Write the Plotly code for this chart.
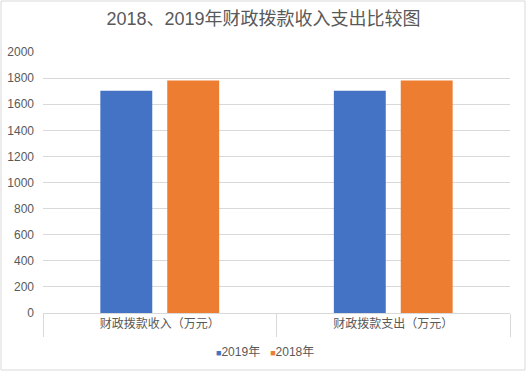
import plotly.graph_objects as go

categories = ["财政拨款收入（万元）", "财政拨款支出（万元）"]
series_names = ["2019年", "2018年"]
values_2019 = [1703, 1703]
values_2018 = [1782, 1782]
colors = ["#4472C4", "#ED7D31"]
y_ticks = [0, 200, 400, 600, 800, 1000, 1200, 1400, 1600, 1800, 2000]

W, H = 527, 372
ml, mr, mt, mb = 43, 17, 52, 59
pw, ph = W - ml - mr, H - mt - mb

fig = go.Figure()
for name, vals, c in zip(series_names, [values_2019, values_2018], colors):
    fig.add_trace(go.Bar(x=categories, y=vals, name=name, showlegend=False,
                         marker=dict(color=c, line=dict(width=0))))

font = "Liberation Sans, Noto Sans CJK SC, sans-serif"
legend_text = "   ".join(
    f'<span style="color:{c};font-size:9px">■</span>{n}' for n, c in zip(series_names, colors)
)
fig.update_layout(
    width=W, height=H,
    margin=dict(l=ml, r=mr, t=mt, b=mb, autoexpand=False),
    paper_bgcolor="white", plot_bgcolor="white",
    barmode="group", bargap=0.427, bargroupgap=0.224,
    font=dict(family=font, color="#595959", size=12),
    title=dict(text="2018、2019年财政拨款收入支出比较图", x=0.5, xanchor="center",
               y=1 - 19 / H, yanchor="middle",
               font=dict(size=18, color="#595959", family=font)),
    showlegend=False,
    xaxis=dict(showline=True, linecolor="#D9D9D9", linewidth=1, ticks="outside",
               tickson="boundaries", ticklen=23, tickcolor="#D9D9D9", automargin=False,
               tickfont=dict(size=12, color="#595959"), showgrid=False),
    yaxis=dict(range=[0, 2000], tickvals=y_ticks, showgrid=True, gridcolor="#D9D9D9",
               zeroline=False, showline=False, ticks="", ticklabelstandoff=8, automargin=False,
               tickfont=dict(size=12, color="#595959")),
    annotations=[dict(text=legend_text, xref="paper", yref="paper",
                      x=(265 - ml) / pw, xanchor="center",
                      y=-(352 - 313) / ph, yanchor="middle", showarrow=False,
                      font=dict(size=12, color="#595959", family=font))],
    shapes=[dict(type="rect", xref="paper", yref="paper",
                 x0=(1 - ml) / pw, x1=(W - 2 - ml) / pw,
                 y0=-(H - 2 - mt - ph) / ph, y1=1 + (mt - 1) / ph,
                 line=dict(color="#D9D9D9", width=1), layer="below")],
)
fig.write_html("out.html", config={"displayModeBar": False},
               post_script="document.body.style.margin='0';document.body.style.overflow='hidden';")
